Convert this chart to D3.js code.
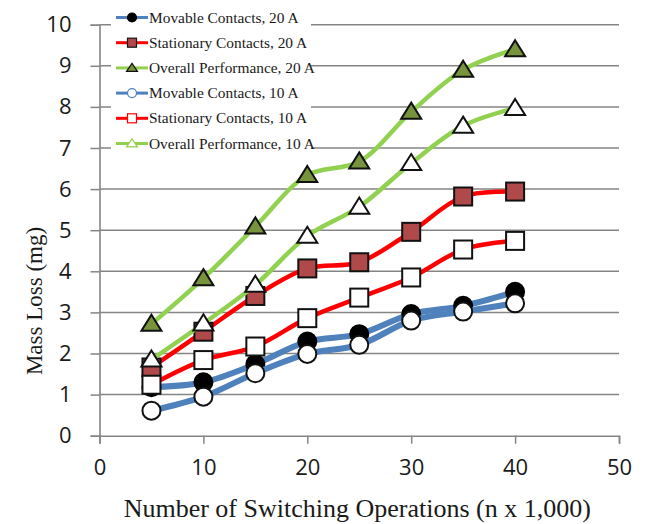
<!DOCTYPE html>
<html>
<head>
<meta charset="utf-8">
<script src="https://cdn.jsdelivr.net/npm/d3@7"></script>
<style>
  body { margin: 0; background: #fff; }
  #chart { width: 647px; height: 524px; }
</style>
</head>
<body>
<div id="chart"></div>
<script>
// values
const operations = [5, 10, 15, 20, 25, 30, 35, 40];
const movable20 = [1.18, 1.30, 1.74, 2.29, 2.47, 2.96, 3.16, 3.50];
const stationary20 = [1.66, 2.53, 3.40, 4.07, 4.22, 4.96, 5.82, 5.94];
const overall20 = [2.72, 3.83, 5.09, 6.34, 6.67, 7.88, 8.90, 9.40];
const movable10 = [0.61, 0.95, 1.52, 1.99, 2.21, 2.80, 3.02, 3.22];
const stationary10 = [1.24, 1.84, 2.17, 2.86, 3.36, 3.85, 4.53, 4.74];
const overall10 = [1.85, 2.73, 3.67, 4.86, 5.57, 6.63, 7.54, 7.97];
const xTicks = [0, 10, 20, 30, 40, 50];
const yTicks = [0, 1, 2, 3, 4, 5, 6, 7, 8, 9, 10];

const series = [
    { name: "Movable Contacts, 20 A", values: movable20, line: "#4f81bd", width: 6, shape: "circle", fill: "#000", stroke: "#000" },
    { name: "Stationary Contacts, 20 A", values: stationary20, line: "#ff0000", width: 4.5, shape: "square", fill: "#b04a4a", stroke: "#111" },
    { name: "Overall Performance, 20 A", values: overall20, line: "#92d050", width: 4.5, shape: "triangle", fill: "#77933c", stroke: "#111" },
    { name: "Movable Contacts, 10 A", values: movable10, line: "#4f81bd", width: 6, shape: "circle", fill: "#fff", stroke: "#111" },
    { name: "Stationary Contacts, 10 A", values: stationary10, line: "#ff0000", width: 4.5, shape: "square", fill: "#fff", stroke: "#111" },
    { name: "Overall Performance, 10 A", values: overall10, line: "#92d050", width: 4.5, shape: "triangle", fill: "#fff", stroke: "#111" }
];

const width = 647, height = 524;
const plotLeft = 99.5, plotRight = 619, plotTop = 24.7, plotBottom = 435.7;

const svg = d3.select("#chart").append("svg")
    .attr("width", width)
    .attr("height", height);

const x = d3.scaleLinear().domain([0, 50]).range([plotLeft, plotRight]);
const y = d3.scaleLinear().domain([0, 10]).range([plotBottom, plotTop]);

// gridlines
svg.append("g")
    .selectAll("line")
    .data(yTicks.slice(1))
    .enter().append("line")
    .attr("x1", plotLeft).attr("x2", plotRight)
    .attr("y1", d => y(d)).attr("y2", d => y(d))
    .style("stroke", "#858585")
    .style("stroke-width", 1.5);

// axes
const yAxis = svg.append("g")
    .attr("transform", "translate(" + plotLeft + ",0)")
    .call(d3.axisLeft(y).tickValues(yTicks).tickSize(9).tickPadding(19).tickFormat(d3.format("d")));

const xAxis = svg.append("g")
    .attr("transform", "translate(0," + plotBottom + ")")
    .call(d3.axisBottom(x).tickValues(xTicks).tickSize(8).tickPadding(16).tickFormat(d3.format("d")));

[yAxis, xAxis].forEach(g => {
    g.select(".domain").style("stroke", "#858585").style("stroke-width", 1.6);
    g.selectAll(".tick line").style("stroke", "#858585").style("stroke-width", 1.5);
    g.selectAll("text")
        .style("font-family", "'Open Sans', sans-serif")
        .style("font-size", "22px")
        .style("fill", "#1a1a1a");
});

// axis titles
svg.append("text")
    .attr("x", (plotLeft + plotRight) / 2 - 2)
    .attr("y", 517)
    .attr("text-anchor", "middle")
    .style("font-family", "'Liberation Serif', serif")
    .style("font-size", "26px")
    .style("fill", "#1a1a1a")
    .text("Number of Switching Operations (n x 1,000)");

svg.append("text")
    .attr("transform", "translate(42," + 301 + ") rotate(-90)")
    .attr("text-anchor", "middle")
    .style("font-family", "'Liberation Serif', serif")
    .style("font-size", "23px")
    .style("fill", "#1a1a1a")
    .text("Mass Loss (mg)");

function marker(sel, shape, size) {
    if (shape === "circle") {
        sel.append("circle").attr("r", size / 2);
    } else if (shape === "square") {
        sel.append("rect").attr("x", -size / 2).attr("y", -size / 2)
            .attr("width", size).attr("height", size);
    } else {
        const h = size * 0.85;
        sel.append("path").attr("d",
            "M0," + (-h * 0.6) + "L" + (size / 2 + 1) + "," + (h * 0.45) + "L" + (-size / 2 - 1) + "," + (h * 0.45) + "Z");
    }
}

const line = d3.line()
    .x((d, i) => x(operations[i]))
    .y(d => y(d))
    .curve(d3.curveCatmullRom.alpha(0.5));

series.forEach(s => {
    const g = svg.append("g");
    g.append("path")
        .datum(s.values)
        .attr("d", line)
        .style("fill", "none")
        .style("stroke", s.line)
        .style("stroke-width", s.width)
        .style("stroke-linecap", "round")
        .style("stroke-linejoin", "round");

    g.selectAll("g.pt")
        .data(s.values)
        .enter().append("g")
        .attr("class", "pt")
        .attr("transform", (d, i) => "translate(" + x(operations[i]) + "," + y(d) + ")")
        .each(function () { marker(d3.select(this), s.shape, 18); })
        .selectAll("*")
        .style("fill", s.fill)
        .style("stroke", s.stroke)
        .style("stroke-width", 2);
});

// legend
const legend = svg.append("g");
legend.append("rect")
    .attr("x", 111).attr("y", 4)
    .attr("width", 200).attr("height", 152)
    .style("fill", "#fff");

const rowY = d3.scaleLinear().domain([0, 5]).range([17.5, 143.5]);
series.forEach((s, i) => {
    const row = legend.append("g").attr("transform", "translate(0," + rowY(i) + ")");
    row.append("line")
        .attr("x1", 116).attr("x2", 148)
        .style("stroke", s.line)
        .style("stroke-width", 3);
    const m = row.append("g").attr("transform", "translate(132,0)");
    marker(m, s.shape, 9);
    m.selectAll("*")
        .style("fill", s.fill)
        .style("stroke", i < 3 ? s.stroke : s.line)
        .style("stroke-width", 1.2);
    row.append("text")
        .attr("x", 149)
        .attr("y", 5)
        .style("font-family", "'Liberation Serif', serif")
        .style("font-size", "15.4px")
        .style("fill", "#1a1a1a")
        .text(s.name);
});
</script>
</body>
</html>
